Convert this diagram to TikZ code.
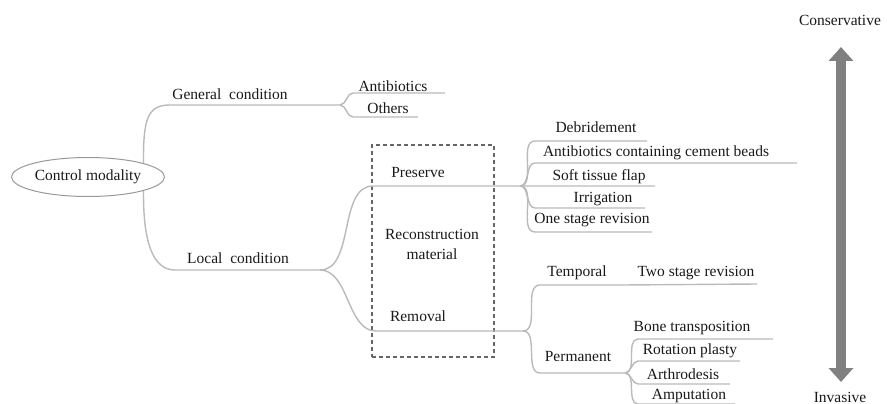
\documentclass[tikz,border=0pt]{standalone}
\usepackage{fontspec}
\setmainfont{Liberation Serif}
\usetikzlibrary{shapes,arrows.meta,positioning}
\tikzset{
  branch/.style={draw=black!27, line width=1.4pt},
  twig/.style={out=0, in=180, looseness=0.9},
  every node/.style={text=black!90, font=\fontsize{15.5}{20}\selectfont},
}

\begin{document}
\begin{tikzpicture}[x=1pt,y=-1pt]
        \useasboundingbox (0,0) rectangle (887,404);

        \node[draw=black!40, line width=1pt, ellipse, minimum width=153, minimum height=39, inner sep=0pt] (root) at (88,177) {Control modality};
        \node[draw=black!60, dash pattern=on 4pt off 3pt, line width=1.2pt, minimum width=122, minimum height=212] (box) at (433,251) {};

        % fork points and line ends
        \coordinate (gen) at (340,105);
        \coordinate (loc) at (320,270);
        \coordinate (pre) at (520,186);
        \coordinate (rem) at (523,331);
        \coordinate (tem) at (623,285);
        \coordinate (per) at (625,373);
        \coordinate (antib) at (445,93);
        \coordinate (oth) at (418,117);
        \coordinate (debr) at (647,141);
        \coordinate (acb) at (797,163);
        \coordinate (stf) at (655,186);
        \coordinate (irr) at (645,208);
        \coordinate (osr) at (652,232);
        \coordinate (tsr) at (757,284);
        \coordinate (bt) at (773,339);
        \coordinate (rp) at (740,361);
        \coordinate (ar) at (730,384);
        \coordinate (am) at (735,404);

        \draw[branch] (root.14) .. controls (143,118) and (148,105) .. (170,105) -- (gen);
        \draw[branch] (root.-14) .. controls (143,240) and (152,270) .. (175,270) -- (loc);
        \draw[branch] (gen) to[twig] (353,93) -- (antib);
        \draw[branch] (gen) to[twig] (353,117) -- (oth);
        \draw[branch] (loc) to[twig] (373,186) -- (pre) -- (stf);
        \draw[branch] (loc) to[twig] (376,331) -- (rem);
        \draw[branch] (pre) to[twig] (535,141) -- (debr);
        \draw[branch] (pre) to[twig] (535,163) -- (acb);
        \draw[branch] (pre) to[twig] (535,208) -- (irr);
        \draw[branch] (pre) to[twig] (535,232) -- (osr);
        \draw[branch] (rem) to[twig] (540,285) -- (tem) -- (tsr);
        \draw[branch] (rem) to[twig] (540,373) -- (per);
        \draw[branch] (per) to[twig] (638,339) -- (bt);
        \draw[branch] (per) to[twig] (638,361) -- (rp);
        \draw[branch] (per) to[twig] (638,384) -- (ar);
        \draw[branch] (per) to[twig] (638,404) -- (am);

        \node (general) at (230,94) {General\ \ condition};
        \node (local) at (238,258) {Local\ \ condition};
        \node (antibiotics) at (393,86) {Antibiotics};
        \node (others) at (388,108) {Others};
        \node (preserve) at (418,173) {Preserve};
        \node[align=center] (material) at (432,244) {Reconstruction\\material};
        \node (removal) at (418,316) {Removal};
        \node (debridement) at (596,127) {Debridement};
        \node (beads) at (656,153) {Antibiotics containing cement beads};
        \node (flap) at (599,177) {Soft tissue flap};
        \node (irrigation) at (603,199) {Irrigation};
        \node (onestage) at (592,220) {One stage revision};
        \node (temporal) at (577,273) {Temporal};
        \node (twostage) at (696,273) {Two stage revision};
        \node (permanent) at (578,356) {Permanent};
        \node (bone) at (692,328) {Bone transposition};
        \node (rotation) at (690,351) {Rotation plasty};
        \node (arthrodesis) at (683,374) {Arthrodesis};
        \node (amputation) at (689,396) {Amputation};

        \node (conservative) at (840,20) {Conservative};
        \node (invasive) at (840,397) {Invasive};
        \coordinate (upper) at (841,47);
        \coordinate (lower) at (841,382);
        \draw[black!50, line width=10pt, {Triangle[width=24pt,length=14pt]}-{Triangle[width=24pt,length=14pt]}] (upper) -- (lower);
    \end{tikzpicture}
\end{document}
